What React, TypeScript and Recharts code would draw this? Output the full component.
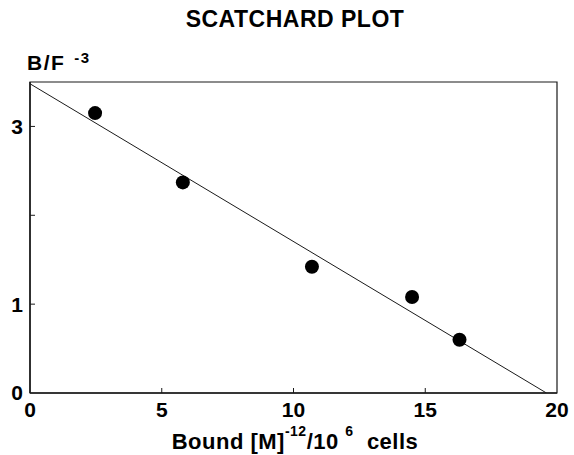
import React from "react";
import { ComposedChart, Scatter, XAxis, YAxis, ReferenceArea } from "recharts";

const boundX = [2.47, 5.8, 10.7, 14.5, 16.3];
const ratioY = [3.15, 2.37, 1.42, 1.08, 0.6];
const fitX = [0, 19.6];
const fitY = [3.48, 0];
const xTicks = [0, 5, 10, 15, 20];
const yTicks = [0, 1, 2, 3];
const yTickLabels: Record<number, string> = { 0: "0", 1: "1", 2: "", 3: "3" };

const points = boundX.map((x, i) => ({ x, y: ratioY[i] }));
const fit = fitX.map((x, i) => ({ x, y: fitY[i] }));

const FONT = "'Liberation Sans', Arial, Helvetica, sans-serif";
const INK = "#1a1a1a";

const Dot = (p: any) => <circle cx={p.cx} cy={p.cy} r={7} fill="#000" />;
const Nothing = () => <g />;

const XTick = (p: any) => {
  const v = p.payload.value;
  return (
    <g>
      {v > 0 && v < 20 && (
        <line x1={p.x} x2={p.x} y1={p.y - 9} y2={p.y - 14} stroke={INK} strokeWidth={1} />
      )}
      <text x={p.x} y={p.y} dy="0.71em" textAnchor="middle" fontFamily={FONT} fontSize={21} fontWeight="bold" fill="#000">
        {v}
      </text>
    </g>
  );
};

const YTick = (p: any) => {
  const v = p.payload.value;
  return (
    <g>
      {v > 0 && (
        <line x1={p.x + 7} x2={p.x + 12} y1={p.y} y2={p.y} stroke={INK} strokeWidth={1} />
      )}
      <text x={p.x} y={p.y} dy="0.355em" textAnchor="end" fontFamily={FONT} fontSize={21} fontWeight="bold" fill="#000">
        {yTickLabels[v]}
      </text>
    </g>
  );
};

export default function App() {
  return (
    <div style={{ position: "absolute", left: 0, top: 0, width: 574, height: 455, background: "#fff" }}>
      <div style={{ position: "absolute", left: 0, top: 0 }}>
        <ComposedChart width={574} height={455} margin={{ top: 82, right: 17, bottom: 32, left: 0 }}>
          <XAxis
            type="number"
            dataKey="x"
            domain={[0, 20]}
            ticks={xTicks}
            allowDataOverflow
            height={30}
            tickSize={0}
            tickMargin={9}
            tick={<XTick />}
            axisLine={{ stroke: INK, strokeWidth: 1.5 }}
          />
          <YAxis
            type="number"
            dataKey="y"
            domain={[0, 3.5]}
            ticks={yTicks}
            allowDataOverflow
            width={30}
            tickSize={0}
            tickMargin={7}
            tick={<YTick />}
            axisLine={{ stroke: INK, strokeWidth: 1.5 }}
          />
          <ReferenceArea x1={0} x2={20} y1={0} y2={3.5} fill="none" stroke={INK} strokeWidth={1.2} ifOverflow="visible" />
          <Scatter data={fit} line={{ stroke: INK, strokeWidth: 1 }} shape={<Nothing />} isAnimationActive={false} />
          <Scatter data={points} shape={<Dot />} isAnimationActive={false} />
        </ComposedChart>
      </div>
      <svg
        width={574}
        height={455}
        style={{ position: "absolute", left: 0, top: 0, pointerEvents: "none" }}
        fontFamily={FONT}
        fontWeight="bold"
        fill="#000"
      >
        <text x={295} y={27} textAnchor="middle" fontSize={23} letterSpacing={0.5}>
          SCATCHARD PLOT
        </text>
        <text x={27} y={70} fontSize={21} letterSpacing={1.5}>
          <tspan>B/F</tspan>
          <tspan dx={9} dy={-7} fontSize={15}>-3</tspan>
        </text>
        <text x={295} y={449} textAnchor="middle" fontSize={22} letterSpacing={0.5}>
          <tspan>Bound [M]</tspan>
          <tspan dy={-13} fontSize={14}>-12</tspan>
          <tspan dy={13}>/10 </tspan>
          <tspan dy={-13} fontSize={14}>6</tspan>
          <tspan dy={13}>{"\u00a0 cells"}</tspan>
        </text>
      </svg>
    </div>
  );
}
